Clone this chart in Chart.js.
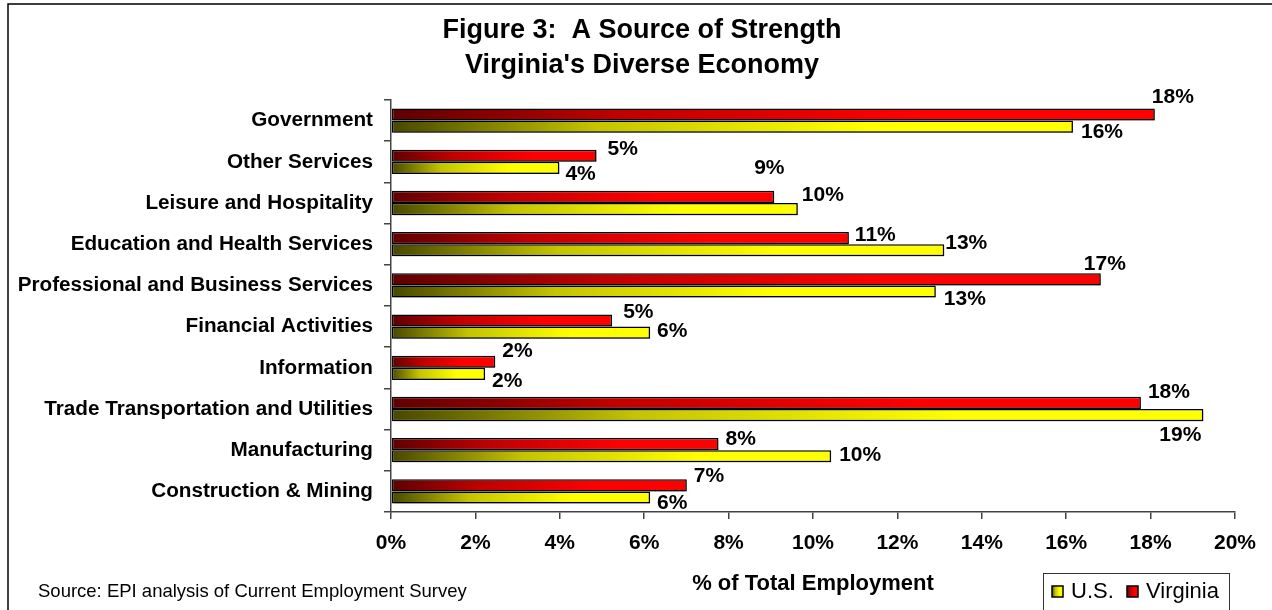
<!DOCTYPE html>
<html>
<head>
<meta charset="utf-8">
<script src="https://cdn.jsdelivr.net/npm/chart.js@4/dist/chart.umd.min.js"></script>
<style>
  body { margin: 0; background: #fff; }
  #wrap { width: 1272px; height: 610px; }
</style>
</head>
<body>
<div id="wrap"><canvas id="chart" width="1272" height="610"></canvas></div>
<script>
// data (% of total employment)
const categories = [
    'Government', 'Other Services', 'Leisure and Hospitality',
    'Education and Health Services', 'Professional and Business Services',
    'Financial Activities', 'Information', 'Trade Transportation and Utilities',
    'Manufacturing', 'Construction & Mining'
];
const virginia = [18.1, 4.87, 9.08, 10.85, 16.82, 5.24, 2.47, 17.77, 7.76, 7.01];
const us = [16.16, 3.99, 9.64, 13.11, 12.91, 6.14, 2.23, 19.25, 10.43, 6.14];

// hand placed label nudges (dx from bar end, dy from bar centre), like the original
const virginiaLabelNudge = [[-3, -17], [11, -7], [-20, -29], [6, -3], [-17, -15], [11, -8], [7, -11], [7, -11], [7, -5], [7, -9]];
const usLabelNudge = [[8, 6], [6, 6], [4, -14], [1, -7], [8, 8], [7, -1], [7, 7], [-44, 20], [8, -1], [7, 6]];

const FONT = '"Liberation Sans", Arial, Helvetica, sans-serif';
const RED = ['#5e0000', '#c00000', '#ff0000'];
const YELLOW = ['#474700', '#c4c400', '#ffff00'];

function gradient(g, x0, x1, stops) {
    const lg = g.createLinearGradient(x0, 0, x1, 0);
    lg.addColorStop(0, stops[0]);
    lg.addColorStop(0.3, stops[1]);
    lg.addColorStop(0.7, stops[2]);
    lg.addColorStop(1, stops[2]);
    return lg;
}

function barFill(stops) {
    return function (context) {
        const chart = context.chart;
        if (context.type !== 'data' || !chart.chartArea) return stops[2];
        const xs = chart.scales.x;
        const x0 = xs.getPixelForValue(0);
        const x1 = xs.getPixelForValue(context.raw);
        return gradient(chart.ctx, x0, Math.max(x1, x0 + 1), stops);
    };
}

// faint drop shadow under the bars
const barShadow = {
    id: 'barShadow',
    beforeDatasetsDraw(chart) {
        const g = chart.ctx;
        g.save();
        g.shadowColor = 'rgba(0,0,0,0.3)';
        g.shadowOffsetX = 2;
        g.shadowOffsetY = 2;
        g.shadowBlur = 0;
    },
    afterDatasetsDraw(chart) {
        chart.ctx.restore();
    }
};

// value labels next to bars
const valueLabels = {
    id: 'valueLabels',
    afterDatasetsDraw(chart) {
        const g = chart.ctx;
        g.save();
        g.font = 'bold 21px ' + FONT;
        g.fillStyle = '#000';
        g.textAlign = 'left';
        g.textBaseline = 'middle';
        const nudges = [virginiaLabelNudge, usLabelNudge];
        chart.data.datasets.forEach((ds, di) => {
            chart.getDatasetMeta(di).data.forEach((bar, i) => {
                const [dx, dy] = nudges[di][i];
                g.fillText(Math.round(ds.data[i]) + '%', bar.x + dx, bar.y + dy);
            });
        });
        g.restore();
    }
};

// frame, titles, source note and boxed legend
const decorations = {
    id: 'decorations',
    afterDraw(chart) {
        const g = chart.ctx;
        const area = chart.chartArea;
        g.save();
        g.strokeStyle = '#000';
        g.lineWidth = 1.5;
        g.strokeRect(8, 4, 1400, 800);

        g.fillStyle = '#000';
        g.textAlign = 'center';
        g.textBaseline = 'middle';
        g.font = 'bold 27px ' + FONT;
        g.fillText('Figure 3:  A Source of Strength', 642, 31);
        g.fillText("Virginia's Diverse Economy", 642, 66);

        g.font = 'bold 22px ' + FONT;
        g.fillText('% of Total Employment', (area.left + area.right) / 2, 584);

        g.textAlign = 'left';
        g.font = '18.5px ' + FONT;
        g.fillText('Source: EPI analysis of Current Employment Survey', 38, 592);

        // legend
        g.strokeStyle = '#333';
        g.lineWidth = 1;
        g.strokeRect(1043.5, 573.5, 186, 50);
        const items = [['U.S.', YELLOW, 1052], ['Virginia', RED, 1127]];
        g.font = '22px ' + FONT;
        items.forEach(([name, stops, x]) => {
            g.fillStyle = gradient(g, x, x + 11, stops);
            g.fillRect(x, 586, 11, 11);
            g.strokeStyle = '#000';
            g.lineWidth = 1.5;
            g.strokeRect(x, 586, 11, 11);
            g.fillStyle = '#000';
            g.fillText(name, x + 19, 592);
        });
        g.restore();
    }
};

const chart = new Chart(document.getElementById('chart'), {
    type: 'bar',
    data: {
        labels: categories,
        datasets: [
            { label: 'Virginia', data: virginia, backgroundColor: barFill(RED) },
            { label: 'U.S.', data: us, backgroundColor: barFill(YELLOW) }
        ]
    },
    options: {
        indexAxis: 'y',
        responsive: false,
        animation: false,
        layout: { padding: { top: 100, right: 37, bottom: 0, left: 0 } },
        datasets: {
            bar: {
                barPercentage: 1,
                categoryPercentage: 0.59,
                borderColor: '#000',
                borderWidth: 1.5,
                borderSkipped: false
            }
        },
        plugins: {
            legend: { display: false },
            title: { display: false },
            tooltip: { enabled: false }
        },
        scales: {
            x: {
                min: 0,
                max: 20,
                ticks: {
                    stepSize: 2,
                    padding: 12,
                    color: '#000',
                    font: { family: FONT, size: 21, weight: 'bold' },
                    callback: v => v + '%'
                },
                grid: { drawOnChartArea: false, tickLength: 7, color: '#444', lineWidth: 1.5 },
                border: { color: '#444', width: 1.5 },
                afterFit: s => { s.height = 98; }
            },
            y: {
                ticks: {
                    padding: 11,
                    color: '#000',
                    font: { family: FONT, size: 20.7, weight: 'bold' }
                },
                grid: { drawOnChartArea: false, tickLength: 7, color: '#444', lineWidth: 1.5 },
                border: { color: '#444', width: 1.5 },
                afterFit: s => { s.width = 391; }
            }
        }
    },
    plugins: [barShadow, valueLabels, decorations]
});
</script>
</body>
</html>
